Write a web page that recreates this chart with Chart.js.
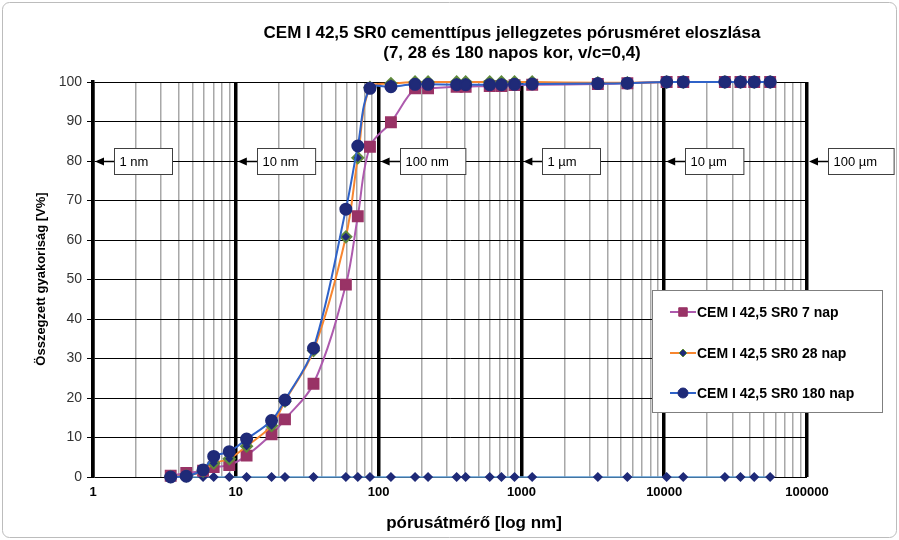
<!DOCTYPE html>
<html>
<head>
<meta charset="utf-8">
<script src="https://cdn.jsdelivr.net/npm/chart.js@4.4.0/dist/chart.umd.min.js"></script>
<style>
  html, body { margin: 0; padding: 0; background: #fff; }
  #wrap { width: 899px; height: 540px; }
</style>
</head>
<body>
<div id="wrap"><canvas id="poreChart" width="899" height="540"></canvas></div>
<script>
// Pore diameters [nm]
const diameters = [3.5, 4.5, 5.9, 7.0, 9.0, 11.9, 17.8, 22.1, 35, 59, 71.5, 87, 122, 180, 222,
  352, 407, 600, 725, 895, 1190, 3430, 5520, 10400, 13600, 26600, 34200, 42700, 55200];

// Cumulative frequency [V%]
const nap7 = [0.3, 1.0, 1.6, 2.5, 3.0, 5.4, 10.8, 14.6, 23.6, 48.7, 66.0, 83.6, 89.8, 98.4, 98.4,
  98.8, 98.8, 99.0, 99.0, 99.2, 99.3, 99.5, 99.7, 100, 100, 100, 100, 100, 100];
const nap28 = [0.1, 0.3, 1.5, 3.5, 4.6, 7.8, 13.0, 19.2, 32.0, 60.8, 80.8, 98.6, 99.6, 100, 100,
  100, 100, 100, 100, 100, 100, 99.8, 99.8, 100, 100, 100, 100, 100, 100];
const nap180 = [0, 0.2, 1.8, 5.2, 6.4, 9.6, 14.3, 19.5, 32.6, 67.8, 83.8, 98.4, 98.8, 99.4, 99.4,
  99.3, 99.3, 99.3, 99.3, 99.4, 99.5, 99.6, 99.7, 100, 100, 100, 100, 100, 100];
const baseline = [0, 0, 0, 0, 0, 0, 0, 0, 0, 0, 0, 0, 0, 0, 0,
  0, 0, 0, 0, 0, 0, 0, 0, 0, 0, 0, 0, 0, 0];

const seriesNames = ['CEM I 42,5 SR0 7 nap', 'CEM I 42,5 SR0 28 nap', 'CEM I 42,5 SR0 180 nap'];
const decades = [1, 10, 100, 1000, 10000, 100000];
const xTickLabels = ['1', '10', '100', '1000', '10000', '100000'];
const sizeLabels = ['1 nm', '10 nm', '100 nm', '1 µm', '10 µm', '100 µm'];
const yTicks = [0, 10, 20, 30, 40, 50, 60, 70, 80, 90, 100];

const FONT = 'Arial, "Liberation Sans", sans-serif';

const pts = ys => diameters.map((d, i) => ({ x: d, y: ys[i] }));
const isDecade = v => decades.indexOf(v) >= 0;

// log grid: 1..9 in every decade
const gridValues = [];
for (let k = 0; k < 5; k++) {
  for (let m = 1; m < 10; m++) gridValues.push(m * Math.pow(10, k));
}
gridValues.push(100000);

// White page with rounded border
const framePlugin = {
  id: 'frame',
  beforeDraw(chart) {
    const c = chart.ctx;
    c.save();
    c.fillStyle = '#fff';
    c.fillRect(0, 0, chart.width, chart.height);
    c.strokeStyle = '#bcbcbc';
    c.lineWidth = 1;
    c.beginPath();
    c.roundRect(2.5, 2.5, chart.width - 5, chart.height - 5, 7);
    c.stroke();
    c.restore();
  }
};

// "1 nm", "10 nm" ... boxes with arrows at 80 %
const sizeBoxes = {
  id: 'sizeBoxes',
  beforeDatasetsDraw(chart) {
    const c = chart.ctx, xs = chart.scales.x, ys = chart.scales.y;
    const yy = Math.round(ys.getPixelForValue(80)) + 0.5;
    c.save();
    c.font = '13px ' + FONT;
    sizeLabels.forEach((lab, i) => {
      const tip = xs.getPixelForValue(decades[i]) + 2;
      const boxL = Math.round(tip + 19) + 0.5;
      const w = Math.max(58, c.measureText(lab).width + 22);
      c.strokeStyle = '#000';
      c.lineWidth = 1.5;
      c.beginPath();
      c.moveTo(tip + 6, yy);
      c.lineTo(boxL, yy);
      c.stroke();
      c.fillStyle = '#000';
      c.beginPath();
      c.moveTo(tip, yy);
      c.lineTo(tip + 9, yy - 4);
      c.lineTo(tip + 9, yy + 4);
      c.closePath();
      c.fill();
      c.fillStyle = '#fff';
      c.fillRect(boxL, yy - 13, w, 26);
      c.strokeStyle = '#404040';
      c.lineWidth = 1;
      c.strokeRect(boxL, yy - 13, w, 26);
      c.fillStyle = '#000';
      c.textBaseline = 'middle';
      c.textAlign = 'left';
      c.fillText(lab, boxL + 5, yy + 1);
    });
    c.restore();
  }
};

function drawMarker(c, style, x, y, r, fill, stroke) {
  c.fillStyle = fill;
  c.strokeStyle = stroke;
  c.lineWidth = 1;
  c.beginPath();
  if (style === 'rect') {
    const s = r * Math.SQRT1_2;
    c.rect(x - s, y - s, 2 * s, 2 * s);
  } else if (style === 'rectRot') {
    c.moveTo(x, y - r); c.lineTo(x + r, y); c.lineTo(x, y + r); c.lineTo(x - r, y); c.closePath();
  } else {
    c.arc(x, y, r, 0, Math.PI * 2);
  }
  c.fill();
  c.stroke();
}

// Legend box inside plot + titles
const decorations = {
  id: 'decorations',
  afterDraw(chart) {
    const c = chart.ctx;
    c.save();
    // legend
    c.fillStyle = '#fff';
    c.fillRect(652.5, 290.5, 230, 122);
    c.strokeStyle = '#7f7f7f';
    c.lineWidth = 1;
    c.strokeRect(652.5, 290.5, 230, 122);
    const rows = [312, 353, 393];
    const legendRadius = [6, 4, 5];
    chart.data.datasets.slice(0, 3).forEach((ds, i) => {
      const y = rows[i];
      c.strokeStyle = ds.borderColor;
      c.lineWidth = 2;
      c.beginPath();
      c.moveTo(670, y); c.lineTo(696, y);
      c.stroke();
      drawMarker(c, ds.pointStyle, 683, y, legendRadius[i], ds.pointBackgroundColor, ds.pointBorderColor);
      c.fillStyle = '#000';
      c.font = 'bold 14px ' + FONT;
      c.textBaseline = 'middle';
      c.textAlign = 'left';
      c.fillText(seriesNames[i], 697, y + 1);
    });
    // chart title
    c.fillStyle = '#000';
    c.textAlign = 'center';
    c.textBaseline = 'middle';
    c.font = 'bold 17px ' + FONT;
    c.fillText('CEM I 42,5 SR0 cementtípus jellegzetes pórusméret eloszlása', 512, 33);
    c.fillText('(7, 28 és 180 napos kor, v/c=0,4)', 512, 53);
    // axis titles
    c.font = 'bold 17px ' + FONT;
    c.fillText('pórusátmérő [log nm]', 474, 523);
    c.translate(41, 279);
    c.rotate(-Math.PI / 2);
    c.font = 'bold 13px ' + FONT;
    c.fillText('Összegzett gyakoriság [V%]', 0, 0);
    c.restore();
  }
};

const ctx = document.getElementById('poreChart').getContext('2d');
new Chart(ctx, {
  type: 'line',
  data: {
    datasets: [
      {
        label: seriesNames[0], data: pts(nap7), order: 3, clip: false,
        borderColor: '#ad5aad', borderWidth: 2, tension: 0.35,
        pointStyle: 'rect', pointRadius: 7,
        pointBackgroundColor: '#993366', pointBorderColor: '#993366'
      },
      {
        label: seriesNames[1], data: pts(nap28), order: 2, clip: false,
        borderColor: '#f7862f', borderWidth: 2, tension: 0.35,
        pointStyle: 'rectRot', pointRadius: 5.5,
        pointBackgroundColor: '#1f2a78', pointBorderColor: '#5f8a3c'
      },
      {
        label: seriesNames[2], data: pts(nap180), order: 1, clip: false,
        borderColor: '#2f62c8', borderWidth: 2, tension: 0.35,
        pointStyle: 'circle', pointRadius: 5.5,
        pointBackgroundColor: '#1f2a78', pointBorderColor: '#1f2a78'
      },
      {
        label: 'baseline', data: pts(baseline), order: 4, clip: false,
        borderColor: '#5b9bd5', borderWidth: 1.5, tension: 0,
        pointStyle: 'rectRot', pointRadius: 4,
        pointBackgroundColor: '#1f2a78', pointBorderColor: '#1f2a78'
      }
    ]
  },
  options: {
    responsive: false,
    animation: false,
    layout: { padding: { top: 82, right: 92, left: 0, bottom: 0 } },
    plugins: { legend: { display: false }, tooltip: { enabled: false } },
    scales: {
      x: {
        type: 'logarithmic', min: 1, max: 100000,
        afterBuildTicks: s => { s.ticks = gridValues.map(v => ({ value: v, major: isDecade(v) })); },
        afterFit: s => { s.height = 63; },
        grid: {
          color: c => (c.tick && isDecade(c.tick.value)) ? '#000' : '#a8a8a8',
          lineWidth: c => (c.tick && isDecade(c.tick.value)) ? 3.5 : 1.5,
          drawTicks: false
        },
        border: { display: false },
        ticks: {
          autoSkip: false, maxRotation: 0, padding: 8, color: '#000',
          font: { family: FONT, size: 13, weight: 'bold' },
          callback: v => { const i = decades.indexOf(v); return i >= 0 ? xTickLabels[i] : ''; }
        }
      },
      y: {
        min: 0, max: 100,
        afterBuildTicks: s => { s.ticks = yTicks.map(v => ({ value: v })); },
        afterFit: s => { s.width = 93; },
        grid: { color: '#000', lineWidth: 1, tickLength: 6 },
        border: { color: '#000', width: 3.5 },
        ticks: { padding: 5, color: '#333', font: { family: FONT, size: 14 } }
      }
    }
  },
  plugins: [framePlugin, sizeBoxes, decorations]
});
</script>
</body>
</html>
